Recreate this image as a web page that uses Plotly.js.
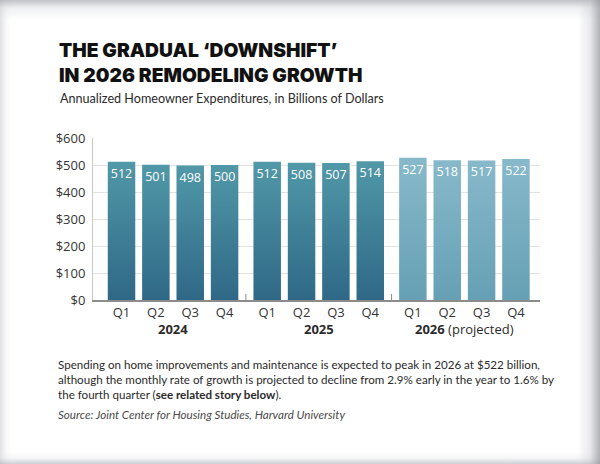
<!DOCTYPE html>
<html>
<head>
<meta charset="utf-8">
<script src="https://cdn.plot.ly/plotly-3.0.1.min.js"></script>
<style>
  html, body { margin: 0; padding: 0; background: #fff; }
  #wrap { position: relative; width: 600px; height: 464px; overflow: hidden; }
  #chart { width: 600px; height: 464px; }
  #edge {
    position: absolute; left: 0; top: 0; width: 600px; height: 464px; pointer-events: none;
    background:
      linear-gradient(to left, rgba(150,152,160,0.75) 0px, rgba(190,192,198,0.35) 10px, rgba(255,255,255,0) 22px),
      linear-gradient(to bottom, rgba(165,167,174,0.7) 0px, rgba(210,212,216,0.35) 8px, rgba(255,255,255,0) 20px),
      linear-gradient(to top, rgba(175,177,182,0.6) 0px, rgba(220,222,225,0.25) 6px, rgba(255,255,255,0) 12px),
      linear-gradient(to right, rgba(200,202,206,0.55) 0px, rgba(230,231,233,0.25) 6px, rgba(255,255,255,0) 12px);
  }
</style>
</head>
<body>
<div id="wrap">
  <div id="chart"></div>
  <div id="edge"></div>
</div>
<script>
// Annualized homeowner spending on improvements and maintenance ($ billions)
const years = ['2024', '2025', '2026'];
const yearLabels = ['<b>2024</b>', '<b>2025</b>', '<b>2026</b> (projected)'];
const quarters = ['Q1', 'Q2', 'Q3', 'Q4'];
const spend2024 = [512, 501, 498, 500];
const spend2025 = [512, 508, 507, 514];
const spend2026 = [527, 518, 517, 522];
const yTicks = [0, 100, 200, 300, 400, 500, 600];
const yTickText = ['$0', '$100', '$200', '$300', '$400', '$500', '$600'];

const series = [spend2024, spend2025, spend2026];
// vertical gradient (top, bottom) for each year; the projection is lighter
const gradients = [
  ['#5198a8', '#2f6886'],
  ['#5198a8', '#2f6886'],
  ['#87b9ca', '#66a0b4']
];

const W = 600, H = 464;
const M = { l: 93, r: 60, t: 138, b: 164 };
// page pixel -> paper fraction helpers for the text blocks
const px = v => (v - M.l) / (W - M.l - M.r);
const py = v => (H - M.b - v) / (H - M.t - M.b);

const GROUP_GAP = 0.24;            // extra space between year groups (in bar slots)
const STRIDE = quarters.length + GROUP_GAP;
const slot = (g, q) => g * STRIDE + q;

const traces = series.map((vals, g) => ({
  type: 'bar',
  x: quarters.map((_, q) => slot(g, q)),
  y: vals,
  width: 0.8,
  marker: { color: gradients[g][0], line: { width: 0 } },
  text: vals.map(String),
  texttemplate: '%{text}',
  textposition: 'inside',
  insidetextanchor: 'end',
  textangle: 0,
  constraintext: 'none',
  textfont: { family: 'Open Sans, sans-serif', size: 12.5, color: '#ffffff' },
  hoverinfo: 'skip',
  showlegend: false
}));

const tickvals = [], ticktext = [];
years.forEach((_, g) => quarters.forEach((q, i) => { tickvals.push(slot(g, i)); ticktext.push(q); }));

// short separators between year groups, rising from the baseline
const shapes = [];
for (let g = 1; g < years.length; g++) {
  const xs = slot(g - 1, quarters.length - 1) + (1 + GROUP_GAP) / 2;
  shapes.push({ type: 'line', xref: 'x', yref: 'y', x0: xs, x1: xs, y0: 0, y1: 22,
    line: { color: '#8a8a8a', width: 1 } });
}

const annotations = years.map((_, g) => ({
  xref: 'x', yref: 'paper',
  x: slot(g, (quarters.length - 1) / 2), y: py(329),
  text: yearLabels[g], showarrow: false, xanchor: 'center', yanchor: 'middle',
  font: { family: 'Open Sans, sans-serif', size: 13, color: '#2b2b2b' }
}));

annotations.push({
  xref: 'paper', yref: 'paper', x: px(58), y: py(89),
  xanchor: 'left', yanchor: 'top', align: 'left', showarrow: false,
  text: 'Annualized Homeowner Expenditures, in Billions of Dollars',
  font: { family: 'Lato, sans-serif', size: 12.6, color: '#2a2a2a' }
});
annotations.push({
  xref: 'paper', yref: 'paper', x: px(56), y: py(356),
  xanchor: 'left', yanchor: 'top', align: 'left', showarrow: false,
  text: 'Spending on home improvements and maintenance is expected to peak in 2026 at $522 billion,<br>' +
        'although the monthly rate of growth is projected to decline from 2.9% early in the year to 1.6% by<br>' +
        'the fourth quarter (<b>see related story below</b>).',
  font: { family: 'Lato, sans-serif', size: 11.6, color: '#2a2a2a' }
});
annotations.push({
  xref: 'paper', yref: 'paper', x: px(56), y: py(406),
  xanchor: 'left', yanchor: 'top', align: 'left', showarrow: false,
  text: '<i>Source: Joint Center for Housing Studies, Harvard University</i>',
  font: { family: 'Lato, sans-serif', size: 11.6, color: '#4a4a4a' }
});

const layout = {
  width: W, height: H,
  paper_bgcolor: '#ffffff', plot_bgcolor: '#ffffff',
  margin: M,
  barmode: 'overlay',
  title: {
    text: 'THE GRADUAL ‘DOWNSHIFT’<br>IN 2026 REMODELING GROWTH',
    xref: 'container', yref: 'container', x: 59 / W, y: 1 - 57 / H,
    xanchor: 'left', yanchor: 'top',
    font: { family: 'Inter, sans-serif', size: 19.3, weight: 900, color: '#111111' }
  },
  xaxis: {
    range: [-0.83, slot(years.length - 1, quarters.length - 1) + 0.7],
    tickvals: tickvals, ticktext: ticktext,
    ticks: '', showgrid: false, zeroline: false,
    showline: true, linecolor: '#8c8c8c', linewidth: 1.5,
    tickfont: { family: 'Open Sans, sans-serif', size: 13, color: '#333333' },
    fixedrange: true
  },
  yaxis: {
    range: [0, 600], tickvals: yTicks, ticktext: yTickText,
    ticks: '', showgrid: true, gridcolor: '#e2e2e2', gridwidth: 1,
    zeroline: false, showline: true, linecolor: '#c8c8c8', linewidth: 1,
    ticklabelstandoff: 4,
    tickfont: { family: 'Open Sans, sans-serif', size: 13, color: '#333333' },
    fixedrange: true
  },
  shapes: shapes,
  annotations: annotations
};

Plotly.newPlot('chart', traces, layout, { staticPlot: true }).then(gd => {
  // give each year's bars a soft top-to-bottom gradient
  const svg = gd.querySelector('svg.main-svg');
  const ns = 'http://www.w3.org/2000/svg';
  let defs = svg.querySelector('defs');
  if (!defs) { defs = document.createElementNS(ns, 'defs'); svg.insertBefore(defs, svg.firstChild); }
  gradients.forEach((c, g) => {
    const lg = document.createElementNS(ns, 'linearGradient');
    lg.setAttribute('id', 'bargrad' + g);
    lg.setAttribute('x1', '0'); lg.setAttribute('y1', '0');
    lg.setAttribute('x2', '0'); lg.setAttribute('y2', '1');
    [[0, c[0]], [1, c[1]]].forEach(([o, col]) => {
      const s = document.createElementNS(ns, 'stop');
      s.setAttribute('offset', o); s.setAttribute('stop-color', col);
      lg.appendChild(s);
    });
    defs.appendChild(lg);
  });
  gd.querySelectorAll('.barlayer .trace.bars').forEach((tr, g) => {
    tr.querySelectorAll('.point path').forEach(p => { p.style.fill = 'url(#bargrad' + g + ')'; });
  });
});
</script>
</body>
</html>
